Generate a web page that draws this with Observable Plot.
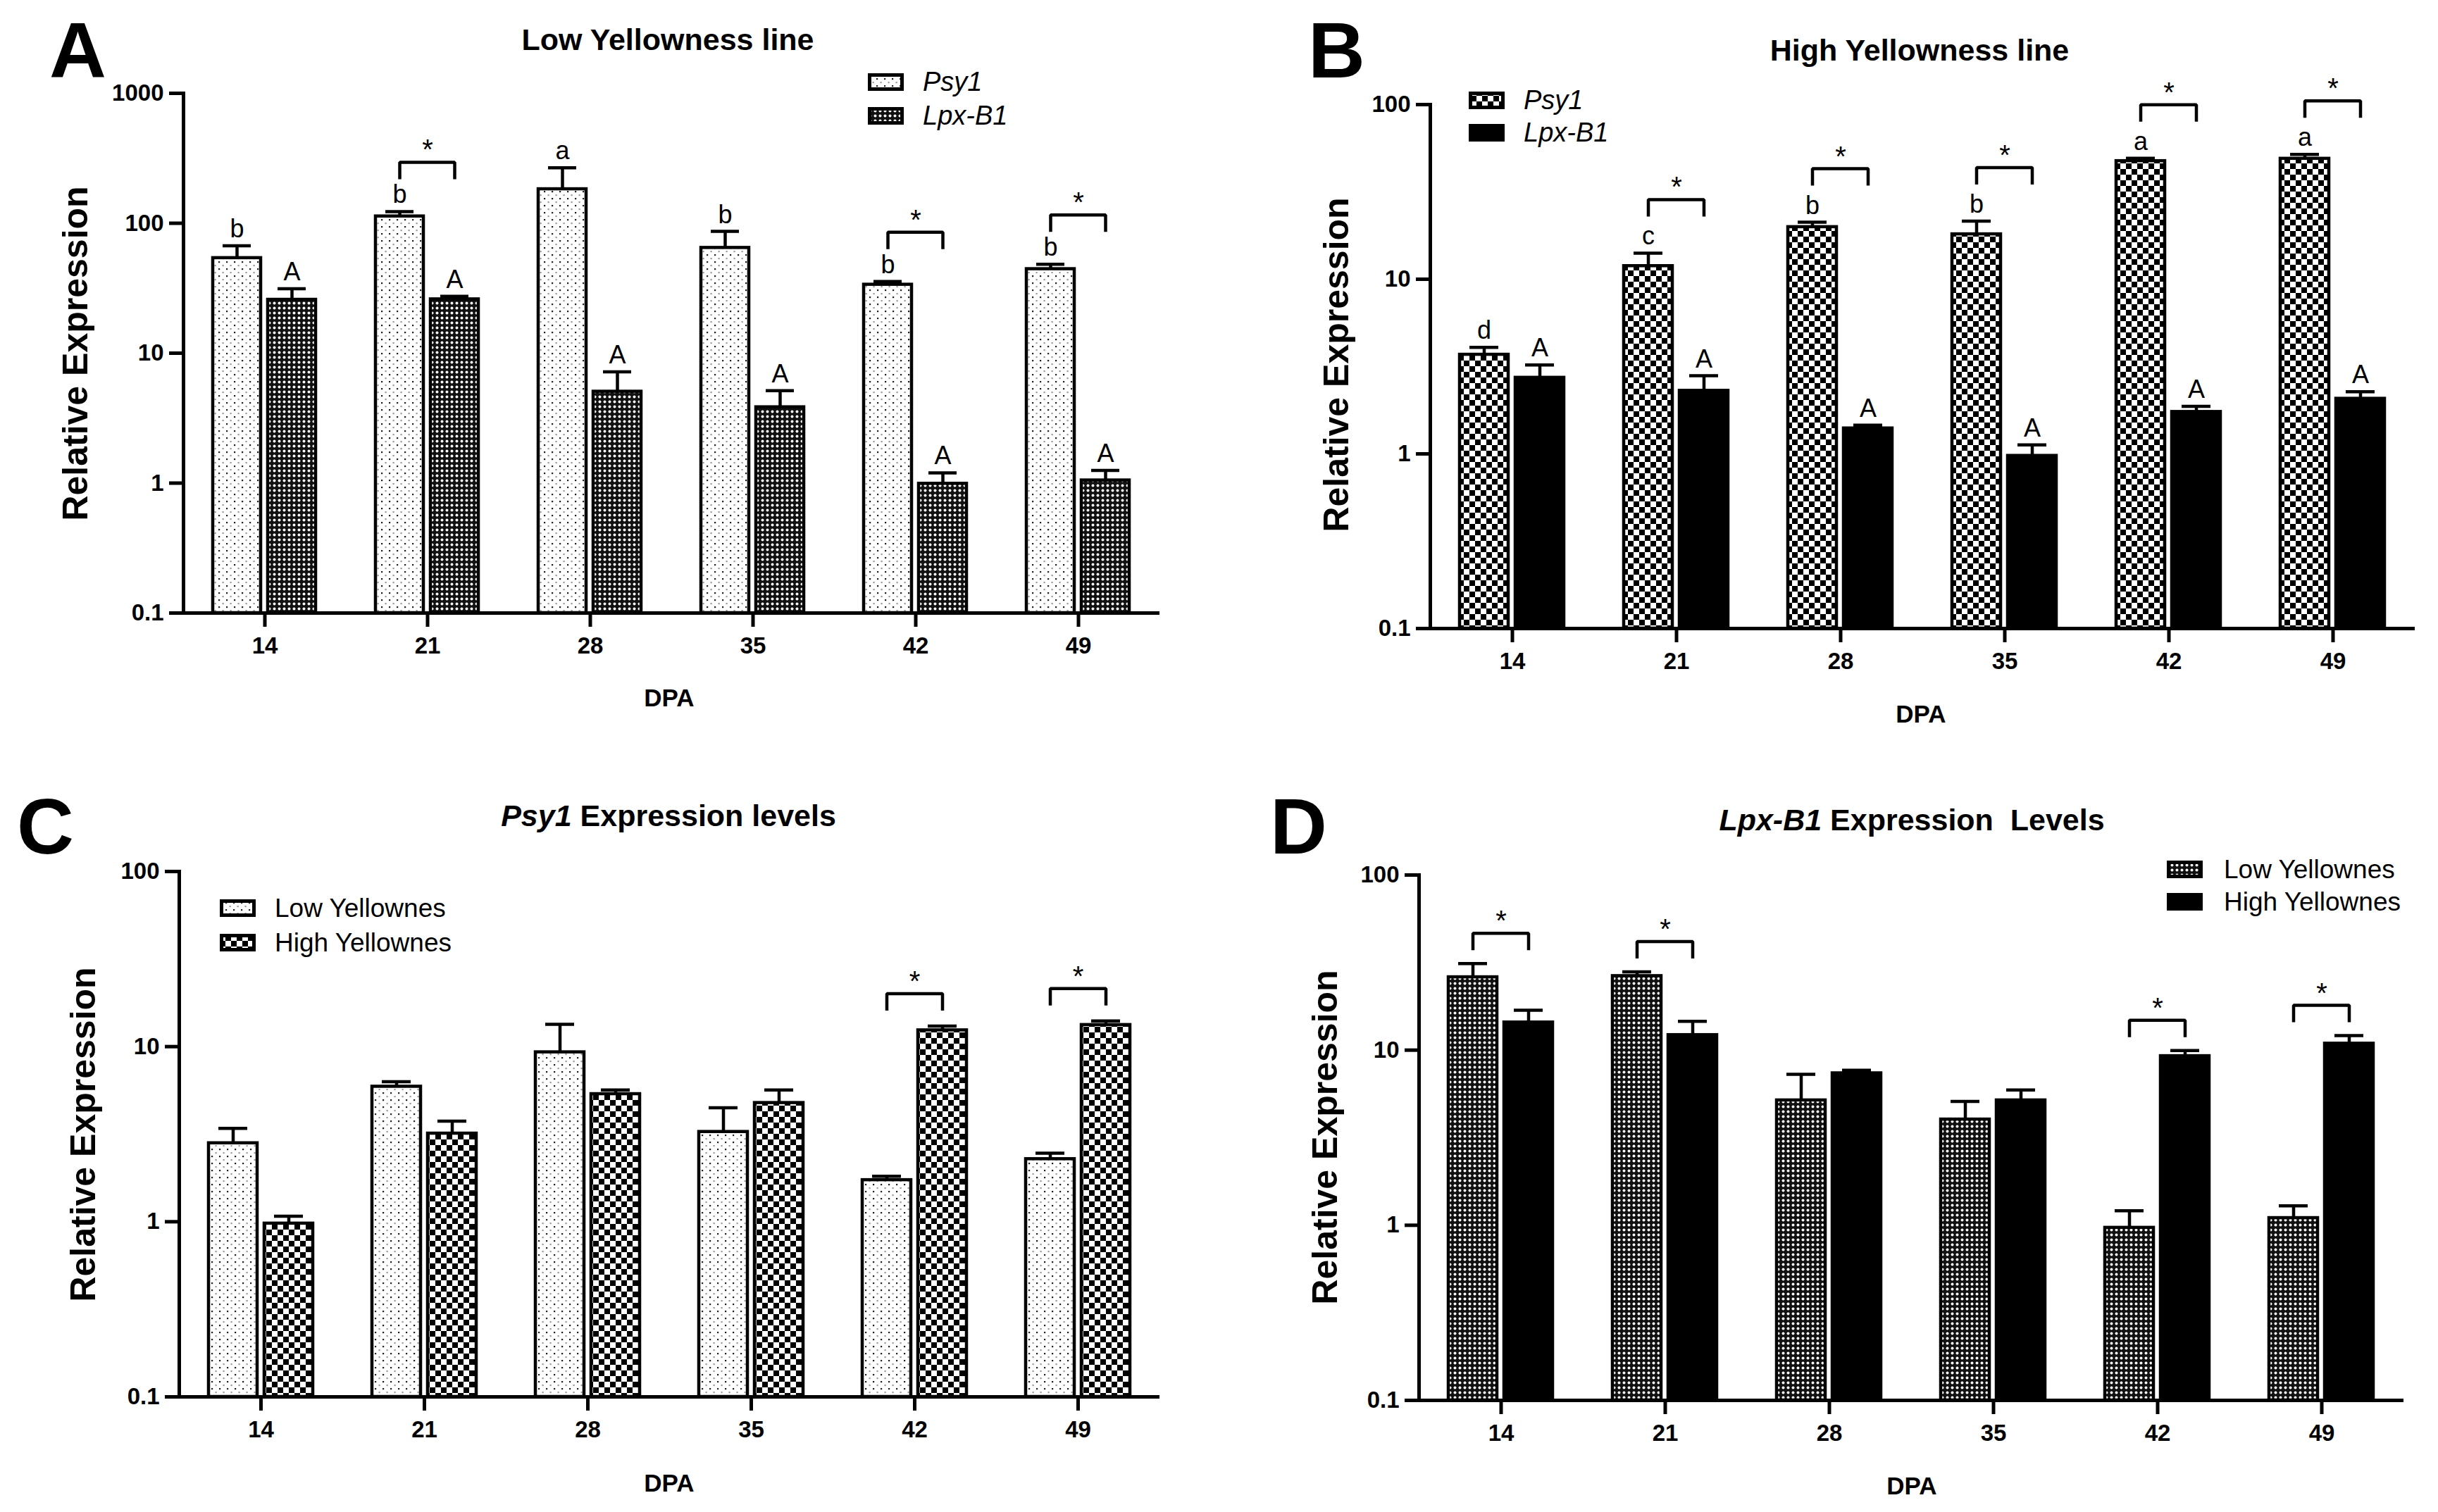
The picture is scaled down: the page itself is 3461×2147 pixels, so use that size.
<!DOCTYPE html>
<html>
<head>
<meta charset="utf-8">
<script src="https://cdn.jsdelivr.net/npm/d3@7"></script>
<script src="https://cdn.jsdelivr.net/npm/@observablehq/plot@0.6"></script>
<style>
html, body { margin: 0; padding: 0; background: #fff; }
#page { position: relative; width: 3461px; height: 2147px; background: #fff; overflow: hidden; }
#page svg { position: absolute; }
</style>
</head>
<body>
<div id="page"></div>
<script>
// ---------- DATA ----------
const dpa = [14, 21, 28, 35, 42, 49];
const ticksA = [0.1, 1, 10, 100, 1000];
const ticksBCD = [0.1, 1, 10, 100];

// Panel A: Low Yellowness line
const lowPsy1 = [54, 113, 183, 64.7, 33.7, 44.4];
const lowPsy1Err = [67, 123, 267, 86.5, 35.6, 48.3];
const lowPsy1Letters = ["b", "b", "a", "b", "b", "b"];
const lowLpx = [25.8, 26, 5.06, 3.84, 0.99, 1.05];
const lowLpxErr = [31.3, 27.4, 7.19, 5.15, 1.2, 1.25];
const lowLpxLetters = ["A", "A", "A", "A", "A", "A"];
const lowSig = [false, true, false, false, true, true];

// Panel B: High Yellowness line
const highPsy1 = [3.7, 11.9, 19.9, 18.1, 47.5, 49];
const highPsy1Err = [4.07, 14.1, 21.2, 21.5, 49.3, 51.8];
const highPsy1Letters = ["d", "c", "b", "b", "a", "a"];
const highLpx = [2.73, 2.3, 1.4, 0.975, 1.74, 2.07];
const highLpxErr = [3.23, 2.8, 1.46, 1.125, 1.87, 2.27];
const highLpxLetters = ["A", "A", "A", "A", "A", "A"];
const highSig = [false, true, true, true, true, true];

// Panel C: Psy1 expression levels
const psyLow = [2.81, 5.91, 9.29, 3.26, 1.73, 2.28];
const psyLowErr = [3.41, 6.3, 13.4, 4.47, 1.82, 2.46];
const psyHigh = [0.977, 3.19, 5.36, 4.77, 12.4, 13.3];
const psyHighErr = [1.076, 3.75, 5.65, 5.65, 13.1, 14.0];
const psySig = [false, false, false, false, true, true];

// Panel D: Lpx-B1 expression levels
const lpxLow = [26.1, 26.5, 5.17, 4.02, 0.968, 1.1];
const lpxLowErr = [31.2, 28.0, 7.28, 5.1, 1.21, 1.29];
const lpxHigh = [14.4, 12.2, 7.38, 5.17, 9.25, 10.9];
const lpxHighErr = [16.9, 14.6, 7.67, 5.92, 9.94, 12.1];
const lpxSig = [true, true, false, false, true, true];

// ---------- PATTERNS ----------
function addPatterns(svg, pre) {
  const defs = d3.select(svg).insert("defs", ":first-child");
  const dots = defs.append("pattern").attr("id", pre + "dots").attr("patternUnits", "userSpaceOnUse").attr("width", 11).attr("height", 10);
  dots.append("rect").attr("width", 11).attr("height", 10).attr("fill", "#fff");
  dots.append("rect").attr("x", 1).attr("y", 1).attr("width", 2.2).attr("height", 2.2).attr("fill", "#222");
  dots.append("rect").attr("x", 6.5).attr("y", 6).attr("width", 2.2).attr("height", 2.2).attr("fill", "#9a9a9a");
  const fine = defs.append("pattern").attr("id", pre + "fine").attr("patternUnits", "userSpaceOnUse").attr("width", 7).attr("height", 7);
  fine.append("rect").attr("width", 7).attr("height", 7).attr("fill", "#111");
  fine.append("circle").attr("cx", 3.5).attr("cy", 3.5).attr("r", 2.0).attr("fill", "#fff");
  const check = defs.append("pattern").attr("id", pre + "check").attr("patternUnits", "userSpaceOnUse").attr("width", 16).attr("height", 16);
  check.append("rect").attr("width", 16).attr("height", 16).attr("fill", "#fff");
  check.append("rect").attr("width", 8).attr("height", 8).attr("fill", "#000");
  check.append("rect").attr("x", 8).attr("y", 8).attr("width", 8).attr("height", 8).attr("fill", "#000");
}
function fillOf(kind, pre) { return kind === "solid" ? "black" : `url(#${pre}${kind})`; }

// ---------- PANELS ----------
const panels = [
  { id: "A", left: 0, top: 0, width: 1740, height: 1050, mL: 259, mR: 94, mT: 132, mB: 180, ymax: 1000, ticks: ticksA,
    series: [
      { name: "Psy1", values: lowPsy1, errors: lowPsy1Err, letters: lowPsy1Letters, fill: "dots" },
      { name: "Lpx-B1", values: lowLpx, errors: lowLpxErr, letters: lowLpxLetters, fill: "fine" }],
    sig: lowSig, off: 70 },
  { id: "B", left: 1740, top: 0, width: 1721, height: 1050, mL: 288, mR: 31, mT: 148, mB: 158, ymax: 100, ticks: ticksBCD,
    series: [
      { name: "Psy1", values: highPsy1, errors: highPsy1Err, letters: highPsy1Letters, fill: "check" },
      { name: "Lpx-B1", values: highLpx, errors: highLpxErr, letters: highLpxLetters, fill: "solid" }],
    sig: highSig, off: 76 },
  { id: "C", left: 0, top: 1050, width: 1740, height: 1097, mL: 252, mR: 92, mT: 187, mB: 164, ymax: 100, ticks: ticksBCD,
    series: [
      { name: "Low Yellownes", values: psyLow, errors: psyLowErr, fill: "dots" },
      { name: "High Yellownes", values: psyHigh, errors: psyHighErr, fill: "check" }],
    sig: psySig, off: 46 },
  { id: "D", left: 1740, top: 1050, width: 1721, height: 1097, mL: 274, mR: 49, mT: 192, mB: 159, ymax: 100, ticks: ticksBCD,
    series: [
      { name: "Low Yellownes", values: lpxLow, errors: lpxLowErr, fill: "fine" },
      { name: "High Yellownes", values: lpxHigh, errors: lpxHighErr, fill: "solid" }],
    sig: lpxSig, off: 43 }
];

const page = document.getElementById("page");
const FONT = "Liberation Sans, Arial, Helvetica, sans-serif";

panels.forEach(p => {
  const pre = p.id + "-";
  const names = p.series.map(s => s.name);
  const rows = [];
  p.series.forEach(s => dpa.forEach((d, i) => rows.push({
    dpa: d, series: s.name, value: s.values[i], err: s.errors[i], letter: s.letters ? s.letters[i] : null
  })));
  const plotH = p.height - p.mT - p.mB;
  const decades = Math.log10(p.ymax / 0.1);
  const k = px => Math.pow(10, px * decades / plotH);
  const br = [], stars = [];
  dpa.forEach((d, i) => {
    if (!p.sig[i]) return;
    const m = Math.max(...p.series.map(s => s.errors[i]));
    const top = m * k(p.off), base = top / k(24);
    br.push({ dpa: d, series: names[0], v: base }, { dpa: d, series: names[0], v: top },
            { dpa: d, series: names[1], v: top }, { dpa: d, series: names[1], v: base });
    stars.push({ dpa: d, v: top });
  });

  const marks = [];
  p.series.forEach(s => {
    marks.push(Plot.barY(rows.filter(r => r.series === s.name), {
      fx: "dpa", x: "series", y1: 0.1, y2: "value", fill: fillOf(s.fill, pre), stroke: "black", strokeWidth: 4.5
    }));
  });
  marks.push(
    Plot.ruleX(rows, { fx: "dpa", x: "series", y1: "value", y2: "err", stroke: "black", strokeWidth: 4.5 }),
    Plot.tickY(rows, { fx: "dpa", x: "series", y: "err", stroke: "black", strokeWidth: 4.5, insetLeft: 14, insetRight: 14 }),
    Plot.text(rows.filter(r => r.letter), { fx: "dpa", x: "series", y: "err", text: "letter", dy: -12, lineAnchor: "bottom", fontSize: 36, fill: "black" }),
    Plot.line(br, { fx: "dpa", x: "series", y: "v", z: "dpa", stroke: "black", strokeWidth: 4.5, strokeLinejoin: "miter", strokeLinecap: "butt" }),
    Plot.text(stars, { fx: "dpa", y: "v", text: () => "*", dy: -4, lineAnchor: "bottom", fontSize: 40, fill: "black" }),
    Plot.ruleY([0.1], { stroke: "black", strokeWidth: 5 }),
    Plot.frame({ anchor: "left", facetAnchor: "left", stroke: "black", strokeWidth: 5 }),
    Plot.axisY({ ticks: p.ticks, tickFormat: d3.format("~g"), tickSize: 20, tickPadding: 8, stroke: "black", strokeWidth: 5, fontSize: 33, fontWeight: "bold", fill: "black", label: null }),
    Plot.axisFx({ anchor: "bottom", tickSize: 20, tickPadding: 14, stroke: "black", strokeWidth: 5, fontSize: 33, fontWeight: "bold", fill: "black", label: null })
  );

  const svg = Plot.plot({
    width: p.width, height: p.height,
    marginLeft: p.mL, marginRight: p.mR, marginTop: p.mT, marginBottom: p.mB,
    style: { fontFamily: FONT, fontSize: "33px", background: "transparent", overflow: "visible", color: "black" },
    fx: { domain: dpa, padding: 0, axis: null, label: null },
    x: { domain: names, paddingInner: 0.125, paddingOuter: 0.53, axis: null },
    y: { type: "log", domain: [0.1, p.ymax], axis: null },
    marks
  });
  addPatterns(svg, pre);
  svg.style.position = "absolute";
  svg.style.left = p.left + "px";
  svg.style.top = p.top + "px";
  svg.style.maxWidth = "none";
  page.appendChild(svg);
});

// ---------- OVERLAY: letters, titles, axis titles, legends ----------
const ov = d3.select(page).append("svg")
  .attr("width", 3461).attr("height", 2147)
  .style("left", "0px").style("top", "0px").style("pointer-events", "none")
  .style("font-family", FONT);
addPatterns(ov.node(), "L-");

function label(x, y, parts, size, weight, anchor = "middle", rotate = false) {
  const t = ov.append("text")
    .attr("transform", rotate ? `translate(${x},${y}) rotate(-90)` : `translate(${x},${y})`)
    .attr("text-anchor", anchor).attr("font-size", size).attr("font-weight", weight)
    .attr("fill", "black").style("white-space", "pre");
  parts.forEach(pt => {
    const [s, style] = Array.isArray(pt) ? pt : [pt, "normal"];
    t.append("tspan").attr("font-style", style).text(s);
  });
}

const panelLetters = [["A", 70, 110], ["B", 1857, 110], ["C", 24, 1212], ["D", 1803, 1212]];
panelLetters.forEach(([s, x, y]) => label(x, y, [s], 112, "bold", "start"));

label(948, 71, ["Low Yellowness line"], 43, "bold");
label(2725, 86, ["High Yellowness line"], 43, "bold");
label(949, 1173, [["Psy1", "italic"], " Expression levels"], 43, "bold");
label(2714, 1179, [["Lpx-B1", "italic"], " Expression  Levels"], 43, "bold");

[[124, 502], [1914, 518], [135, 1611], [1898, 1615]].forEach(([x, y]) => label(x, y, ["Relative Expression"], 50, "bold", "middle", true));
[[950, 1003], [2727, 1026], [950, 2118], [2714, 2122]].forEach(([x, y]) => label(x, y, ["DPA"], 35, "bold"));

const legends = [
  { x: 1232, y: [104, 152], tx: 1310, items: [["Psy1", "dots"], ["Lpx-B1", "fine"]], italic: true },
  { x: 2085, y: [130, 176], tx: 2163, items: [["Psy1", "check"], ["Lpx-B1", "solid"]], italic: true },
  { x: 312, y: [1277, 1326], tx: 390, items: [["Low Yellownes", "dots"], ["High Yellownes", "check"]], italic: false },
  { x: 3076, y: [1222, 1268], tx: 3157, items: [["Low Yellownes", "fine"], ["High Yellownes", "solid"]], italic: false }
];
legends.forEach(L => {
  L.items.forEach(([name, kind], j) => {
    ov.append("rect").attr("x", L.x + 2.5).attr("y", L.y[j] + 2.5).attr("width", 46).attr("height", 20)
      .attr("fill", fillOf(kind, "L-")).attr("stroke", "black").attr("stroke-width", 5);
    label(L.tx, L.y[j] + 25, [[name, L.italic ? "italic" : "normal"]], L.italic ? 38 : 37, "normal", "start");
  });
});
</script>
</body>
</html>
